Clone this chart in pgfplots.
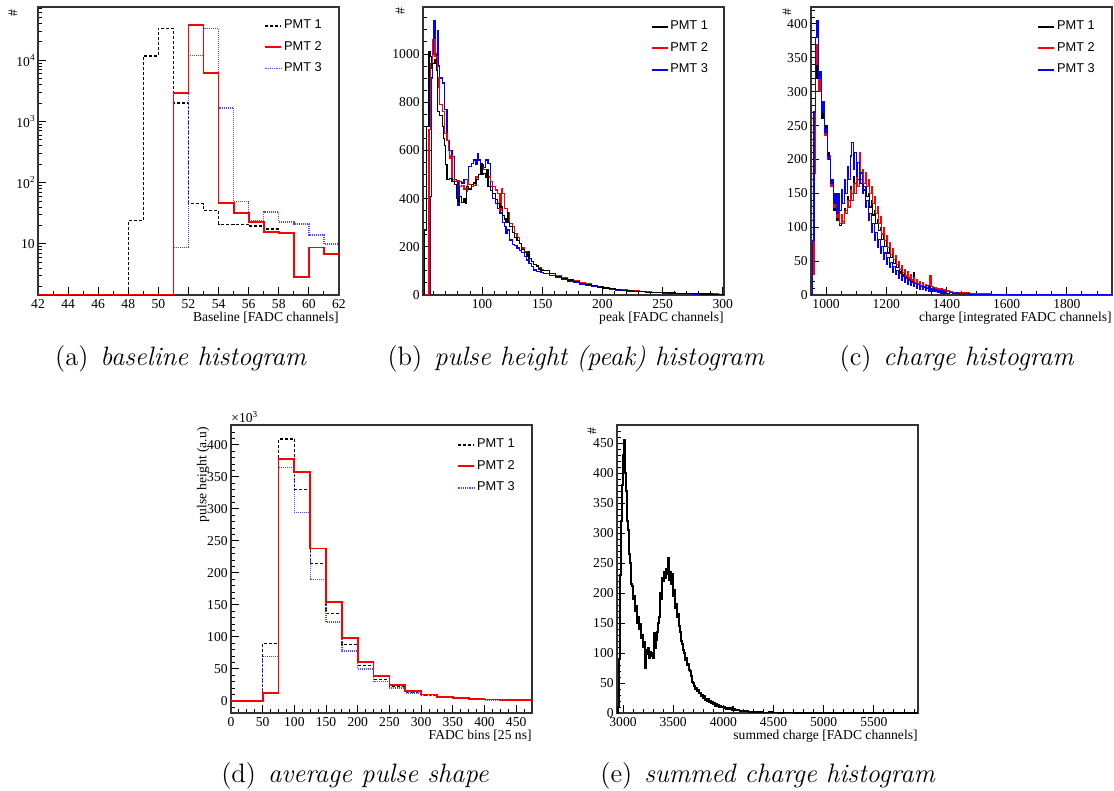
\documentclass[border=0pt]{standalone}
\usepackage{fontspec}
\usepackage{pgfplots}
\pgfplotsset{compat=1.18}
\newfontfamily\tms{Liberation Serif}
\newfontfamily\ars{Liberation Sans}
\newcommand\supr[1]{\raisebox{0.42em}{\fontsize{4.6}{5}\selectfont #1}}
\newcommand\tickfont{\tms\fontsize{6.8}{8}\selectfont}
\newcommand\capfont{\fontsize{13.3}{16}\selectfont}

\pgfplotsset{
  rootstyle/.style={
    scale only axis, width=150.5pt, height=144pt,
    axis line style={black!80, line width=0.6pt},
    tick align=inside, xtick pos=left, ytick pos=left,
    major tick length=4pt, minor tick length=2pt,
    every tick/.style={black, line width=0.45pt},
    scaled ticks=false,
    /pgf/number format/1000 sep={},
    /pgf/number format/assume math mode=true,
    tick label style={font=\tickfont, inner sep=0pt},
    xticklabel style={anchor=north, yshift=-2pt},
    yticklabel style={anchor=east, xshift=-1.5pt},
    xlabel style={at={(axis description cs:1,-0.08)}, anchor=east, inner sep=0pt, font=\tickfont},
    ylabel style={anchor=east, inner sep=0pt, font=\tickfont},
    legend style={draw=none, fill=none, anchor=north west, font=\ars\fontsize{6.4}{7.7}\selectfont,
      row sep=3.1pt, inner sep=0pt, nodes={inner sep=0.8pt}},
    legend cell align=left,
    legend image code/.code={\draw[##1] (0pt,0pt) -- (8pt,0pt);},
    const plot mark left, no marks,
  }
}

\begin{document}
\begin{tikzpicture}
\useasboundingbox (0,0) rectangle (557pt,-395.5pt);

% ---------------- (a) baseline ----------------
\begin{axis}[rootstyle, at={(19pt,-147.5pt)}, anchor=south west,
  ymode=log, xmin=42, xmax=62, ymin=1.46, ymax=74000,
  xtick={42,44,...,62}, minor xtick={42,43,...,62},
  ytick={10,100,1000,10000},
  yticklabels={10, 10\supr{2}, 10\supr{3}, 10\supr{4}},
  minor ytick={2,3,4,5,6,7,8,9,20,30,40,50,60,70,80,90,200,300,400,500,600,700,800,900,2000,3000,4000,5000,6000,7000,8000,9000,20000,30000,40000,50000,60000,70000},
  xlabel={Baseline [FADC channels]}, ylabel={\#},
  ylabel style={at={(axis description cs:-0.083,0.993)}},
  legend style={at={(axis description cs:0.751,0.962)}},
]
\addlegendimage{black, line width=0.7pt, dash pattern=on 1.5pt off 1pt}\addlegendentry{PMT 1}
\addlegendimage{red, line width=1pt}\addlegendentry{PMT 2}
\addlegendimage{blue!70, line width=0.9pt, dash pattern=on 0.6pt off 0.5pt}\addlegendentry{PMT 3}
\addplot[forget plot, black, line width=0.6pt, dash pattern=on 1.5pt off 1pt] coordinates {
(42,1.46) (48,24) (49,11700) (50,33000) (51,2000) (52,45) (53,35) (54,21) (55,21) (56,19.5) (57,17.5) (58,15) (59,15)};
\addplot[forget plot, blue!70, line width=0.7pt, dash pattern=on 0.5pt off 0.5pt] coordinates {
(42,1.46) (51,8.8) (52,12000) (53,33000) (54,1650) (55,49) (56,24) (57,33) (58,22.7) (59,21) (60,13.9) (61,9.9) (62,9.9)};
\addplot[forget plot, red, line width=0.9pt] coordinates {
(42,1.46) (51,2950) (52,37500) (53,6100) (54,46) (55,32) (56,22.7) (57,15.6) (58,15) (59,2.9) (60,8.7) (61,6.9) (62,6.9)};
\end{axis}

% ---------------- (b) peak ----------------
\begin{axis}[rootstyle, at={(211.5pt,-147.5pt)}, anchor=south west,
  xmin=51, xmax=301, ymin=0, ymax=1195,
  xtick={100,150,...,300}, minor xtick={60,70,...,300},
  ytick={0,200,...,1000}, minor ytick={50,100,...,1150},
  xlabel={peak [FADC channels]}, ylabel={\#},
  ylabel style={at={(axis description cs:-0.076,1)}},
  legend style={at={(axis description cs:0.755,0.958)}},
]
\addlegendimage{black, line width=1pt}\addlegendentry{PMT 1}
\addlegendimage{red, line width=1pt}\addlegendentry{PMT 2}
\addlegendimage{blue, line width=1pt}\addlegendentry{PMT 3}
\addplot[forget plot, blue, line width=0.6pt] coordinates {
(51,0) (57,410) (58,900) (59,1000) (60,1140) (61,1000) (62,960) (63,1095) (64,950) (65,900) (67,880) (69,770) (71,640) (73,600) (75,575) (77,478) (79,470) (80,370) (81,470) (83,465) (85,478) (87,480) (89,533) (91,547) (93,560) (95,540) (96,585) (97,560) (99,540) (101,530) (103,560) (105,545) (107,450) (109,400) (111,380) (113,360) (115,340) (117,300) (119,284) (120,256) (121,270) (123,228) (125,210) (127,205) (129,195) (131,185) (133,175) (135,160) (137,145) (139,130) (141,118) (143,104) (145,97) (147,97) (149,92) (151,88) (156,80) (161,72) (166,64) (171,58) (176,52) (181,46) (186,40) (191,35) (196,31) (201,27) (206,24) (211,21) (216,19) (221,17) (226,15) (231,13) (236,12) (241,10) (246,9) (251,8) (256,7) (261,6) (266,6) (271,5) (276,4) (281,4) (286,3) (291,3) (296,3) (301,3)};
\addplot[forget plot, red, line width=0.6pt] coordinates {
(51,0) (56,686) (57,960) (59,1060) (61,990) (63,860) (64,900) (65,790) (67,760) (69,670) (71,640) (72,600) (73,565) (74,580) (75,480) (77,470) (79,475) (81,450) (83,455) (85,440) (87,430) (88,480) (89,460) (91,450) (93,455) (95,490) (97,500) (99,530) (101,520) (103,520) (105,490) (107,470) (109,450) (111,436) (113,420) (115,353) (116,440) (117,422) (119,360) (121,340) (123,298) (125,284) (127,256) (129,240) (131,215) (133,195) (135,180) (137,165) (139,150) (141,138) (143,128) (145,118) (147,112) (149,106) (151,100) (156,90) (161,82) (166,72) (171,65) (176,58) (181,52) (186,46) (191,40) (196,36) (201,32) (206,28) (211,24) (216,21) (221,19) (226,17) (231,15) (236,13) (241,12) (246,10) (251,9) (256,8) (261,7) (266,7) (271,6) (276,5) (281,5) (286,4) (291,4) (296,3) (301,3)};
\addplot[forget plot, black, line width=0.6pt] coordinates {
(51,0) (52,270) (54,700) (56,1010) (57,990) (58,940) (59,960) (61,975) (62,930) (63,760) (65,745) (67,700) (68,650) (69,620) (70,540) (71,480) (73,485) (75,470) (77,460) (79,400) (80,390) (81,410) (83,385) (85,400) (86,380) (87,450) (89,440) (91,460) (93,465) (95,480) (97,500) (99,545) (100,500) (101,505) (103,490) (104,520) (105,450) (107,435) (109,420) (111,395) (113,380) (115,365) (117,330) (119,315) (120,300) (121,340) (122,300) (123,285) (125,260) (127,240) (129,225) (131,215) (133,190) (135,175) (137,160) (138,180) (139,150) (141,140) (143,128) (145,120) (147,108) (149,102) (151,100) (156,88) (161,78) (166,70) (171,62) (176,55) (181,48) (186,42) (191,38) (196,33) (201,29) (206,26) (211,23) (216,20) (221,18) (226,15) (231,14) (236,12) (241,11) (246,10) (251,9) (256,8) (261,7) (266,6) (271,5) (276,5) (281,4) (286,4) (291,3) (296,3) (301,3)};
\end{axis}

% ---------------- (c) charge ----------------
\begin{axis}[rootstyle, at={(405.5pt,-147.5pt)}, anchor=south west,
  xmin=950, xmax=1950, ymin=0, ymax=425,
  xtick={1000,1200,...,1800}, minor xtick={950,1000,...,1950},
  ytick={0,50,...,400}, minor ytick={10,20,...,420},
  xlabel={charge [integrated FADC channels]}, ylabel={\#},
  ylabel style={at={(axis description cs:-0.08,0.997)}},
  legend style={at={(axis description cs:0.751,0.958)}},
]
\addlegendimage{black, line width=1pt}\addlegendentry{PMT 1}
\addlegendimage{red, line width=1pt}\addlegendentry{PMT 2}
\addlegendimage{blue, line width=1pt}\addlegendentry{PMT 3}
\addplot[forget plot, black, line width=0.6pt] coordinates {
(950,0) (955,50) (960,200) (965,320) (970,340) (975,300) (980,310) (985,260) (990,270) (995,240) (1000,250) (1005,210) (1010,200) (1015,160) (1020,165) (1025,125) (1030,140) (1035,110) (1040,125) (1045,103) (1050,118) (1055,108) (1060,128) (1065,125) (1070,145) (1075,140) (1080,160) (1085,150) (1090,175) (1095,165) (1100,180) (1105,170) (1110,175) (1115,165) (1120,170) (1125,155) (1130,160) (1135,145) (1140,150) (1145,130) (1150,140) (1155,118) (1160,125) (1165,105) (1170,112) (1175,95) (1180,100) (1185,82) (1190,90) (1195,72) (1200,80) (1205,62) (1210,70) (1215,55) (1220,60) (1225,46) (1230,52) (1235,40) (1240,45) (1245,34) (1250,40) (1255,30) (1260,34) (1265,26) (1270,30) (1275,22) (1280,27) (1285,20) (1290,33) (1295,17) (1300,21) (1305,15) (1310,18) (1315,13) (1320,16) (1325,11) (1330,14) (1335,10) (1340,12) (1345,9) (1350,10) (1355,8) (1360,9) (1365,7) (1370,8) (1375,6) (1380,7) (1385,5) (1390,6) (1395,4) (1400,5) (1410,4) (1420,3) (1430,3) (1440,2) (1450,2) (1475,2) (1500,1) (1550,1) (1600,0.5) (1700,0.5) (1800,0.3) (1950,0.3)};
\addplot[forget plot, red, line width=0.6pt] coordinates {
(950,0) (955,30) (960,180) (965,340) (970,370) (975,300) (980,320) (985,270) (990,280) (995,235) (1000,245) (1005,200) (1010,205) (1015,160) (1020,170) (1025,130) (1030,140) (1035,115) (1040,125) (1045,105) (1050,118) (1055,105) (1060,125) (1065,120) (1070,140) (1075,130) (1080,155) (1085,140) (1090,165) (1095,150) (1100,175) (1105,160) (1110,210) (1115,170) (1120,185) (1125,165) (1130,180) (1135,160) (1140,170) (1145,150) (1150,160) (1155,135) (1160,145) (1165,120) (1170,130) (1175,105) (1180,115) (1185,90) (1190,100) (1195,80) (1200,88) (1205,70) (1210,78) (1215,60) (1220,68) (1225,52) (1230,58) (1235,45) (1240,50) (1245,38) (1250,44) (1255,33) (1260,38) (1265,28) (1270,34) (1275,25) (1280,30) (1285,22) (1290,26) (1295,19) (1300,23) (1305,17) (1310,20) (1315,14) (1320,18) (1325,12) (1330,16) (1335,11) (1340,14) (1345,28) (1350,12) (1355,9) (1360,11) (1365,8) (1370,10) (1375,7) (1380,9) (1385,6) (1390,8) (1395,5) (1400,6) (1410,5) (1420,4) (1430,4) (1440,3) (1450,3) (1475,2) (1500,1.5) (1550,1) (1600,1) (1700,0.5) (1800,0.5) (1950,0.5)};
\addplot[forget plot, blue, line width=0.6pt] coordinates {
(950,0) (955,80) (960,270) (965,380) (970,405) (975,320) (980,330) (985,270) (990,285) (995,240) (1000,245) (1005,205) (1010,200) (1015,165) (1020,170) (1025,135) (1030,150) (1035,120) (1040,150) (1045,125) (1050,155) (1055,135) (1060,170) (1065,150) (1070,190) (1075,170) (1080,205) (1085,225) (1090,185) (1095,210) (1100,175) (1105,195) (1110,165) (1115,180) (1120,150) (1125,160) (1130,130) (1135,140) (1140,110) (1145,120) (1150,92) (1155,105) (1160,80) (1165,92) (1170,70) (1175,82) (1180,62) (1185,72) (1190,52) (1195,62) (1200,45) (1205,55) (1210,40) (1215,48) (1220,34) (1225,42) (1230,30) (1235,36) (1240,25) (1245,32) (1250,22) (1255,28) (1260,19) (1265,25) (1270,16) (1275,22) (1280,14) (1285,19) (1290,12) (1295,17) (1300,10) (1305,15) (1310,9) (1315,13) (1320,8) (1325,12) (1330,7) (1335,14) (1340,6) (1345,10) (1350,5) (1355,9) (1360,5) (1365,8) (1370,4) (1375,7) (1380,3) (1385,6) (1390,3) (1395,5) (1400,2) (1410,4) (1420,2) (1430,3) (1440,2) (1450,2) (1475,1) (1500,1) (1550,1) (1600,0.5) (1700,0.5) (1800,0.3) (1950,0.3)};
\end{axis}

% ---------------- (d) pulse shape ----------------
\begin{axis}[rootstyle, at={(115.5pt,-356.5pt)}, anchor=south west,
  xmin=0, xmax=475, ymin=-19, ymax=431,
  xtick={0,50,...,450}, minor xtick={0,12.5,...,475},
  ytick={0,50,...,400}, minor ytick={-10,0,...,430},
  xlabel={FADC bins [25 ns]}, ylabel={pulse height (a.u)},
  ylabel style={at={(axis description cs:-0.093,0.993)}},
  legend style={at={(axis description cs:0.751,0.958)}},
  extra description/.code={\node[anchor=south west, inner sep=0pt, font=\tickfont] at (0,1.006) {×10\supr{3}};},
]
\addlegendimage{black, line width=0.7pt, dash pattern=on 1.5pt off 1pt}\addlegendentry{PMT 1}
\addlegendimage{red, line width=1pt}\addlegendentry{PMT 2}
\addlegendimage{blue!70, line width=0.9pt, dash pattern=on 0.6pt off 0.5pt}\addlegendentry{PMT 3}
\addplot[forget plot, black, line width=0.6pt, dash pattern=on 1.5pt off 1pt] coordinates {
(0,0.8) (25,0.8) (50,90) (75,409) (100,330) (125,214) (150,137) (175,88) (200,55) (225,33) (250,22) (275,13) (300,9) (325,5.5) (350,4) (375,2.5) (400,2) (425,1.5) (450,1) (475,1)};
\addplot[forget plot, blue!70, line width=0.7pt, dash pattern=on 0.5pt off 0.5pt] coordinates {
(0,0) (25,0) (50,69) (75,365) (100,294) (125,190) (150,123) (175,78) (200,50) (225,30) (250,20) (275,12.5) (300,8) (325,5) (350,3.5) (375,2) (400,1.5) (425,1) (450,0.8) (475,0.8)};
\addplot[forget plot, red, line width=0.9pt] coordinates {
(0,0) (25,0) (50,12.5) (75,378) (100,358) (125,238) (150,154) (175,98) (200,61) (225,39) (250,24.5) (275,15.5) (300,10) (325,6.5) (350,4) (375,2.5) (400,2) (425,1.5) (450,0.8) (475,0.8)};
\end{axis}

% ---------------- (e) summed charge ----------------
\begin{axis}[rootstyle, at={(308.5pt,-356.5pt)}, anchor=south west,
  xmin=2940, xmax=5940, ymin=0, ymax=480,
  xtick={3000,3500,...,5500}, minor xtick={3000,3100,...,5900},
  ytick={0,50,...,450}, minor ytick={10,20,...,470},
  xlabel={summed charge [FADC channels]}, ylabel={\#},
  ylabel style={at={(axis description cs:-0.083,0.993)}},
]
\addplot[black, line width=0.85pt] coordinates {
(2940,0) (2950,10) (2960,90) (2970,230) (2980,320) (2990,380) (3000,430) (3010,455) (3020,400) (3030,370) (3040,320) (3050,305) (3060,265) (3070,250) (3080,215) (3090,212) (3100,190) (3110,195) (3120,170) (3130,178) (3140,150) (3150,160) (3160,140) (3170,148) (3180,125) (3190,130) (3200,110) (3210,118) (3220,75) (3230,105) (3240,98) (3250,108) (3260,92) (3270,102) (3280,95) (3290,100) (3300,92) (3310,133) (3320,108) (3330,122) (3340,135) (3350,150) (3360,160) (3370,200) (3380,190) (3390,225) (3400,220) (3410,235) (3420,225) (3430,240) (3440,232) (3450,258) (3460,222) (3470,235) (3480,215) (3490,232) (3500,195) (3510,205) (3520,175) (3530,182) (3540,160) (3550,165) (3560,145) (3570,135) (3580,120) (3590,115) (3600,105) (3610,100) (3620,88) (3630,92) (3640,80) (3650,82) (3660,72) (3670,70) (3680,62) (3690,52) (3700,50) (3710,45) (3720,40) (3730,42) (3740,36) (3750,38) (3760,33) (3770,34) (3780,28) (3790,30) (3800,25) (3810,28) (3820,22) (3830,24) (3840,20) (3850,23) (3860,18) (3870,20) (3880,16) (3890,18) (3900,14) (3910,17) (3920,12) (3930,15) (3940,11) (3950,13) (3960,10) (3970,12) (3980,9) (3990,11) (4000,8) (4010,10) (4020,7) (4030,9) (4040,7) (4050,9) (4060,6) (4070,8) (4080,5) (4090,10) (4100,5) (4110,7) (4120,4) (4130,6) (4140,4) (4150,5) (4160,3) (4170,4) (4180,3) (4200,3) (4250,2) (4300,2) (4350,1.5) (4400,1) (4450,1.5) (4500,1) (4550,0.5) (4600,1) (4700,0.5) (4800,0.5) (4900,0.3) (5000,0.5) (5200,0.3) (5940,0.3)};
\end{axis}

% ---------------- captions ----------------
\node[anchor=base, inner sep=0pt, font=\capfont] at (90.5pt,-182.5pt) {(a)\hspace{0.45em}\textit{baseline histogram}};
\node[anchor=base, inner sep=0pt, font=\capfont] at (288pt,-182.5pt) {(b)\hspace{0.45em}\textit{pulse height (peak) histogram}};
\node[anchor=base, inner sep=0pt, font=\capfont] at (478.5pt,-182.5pt) {(c)\hspace{0.45em}\textit{charge histogram}};
\node[anchor=base, inner sep=0pt, font=\capfont] at (177.5pt,-391pt) {(d)\hspace{0.45em}\textit{average pulse shape}};
\node[anchor=base, inner sep=0pt, font=\capfont] at (384pt,-391pt) {(e)\hspace{0.45em}\textit{summed charge histogram}};
\end{tikzpicture}
\end{document}
